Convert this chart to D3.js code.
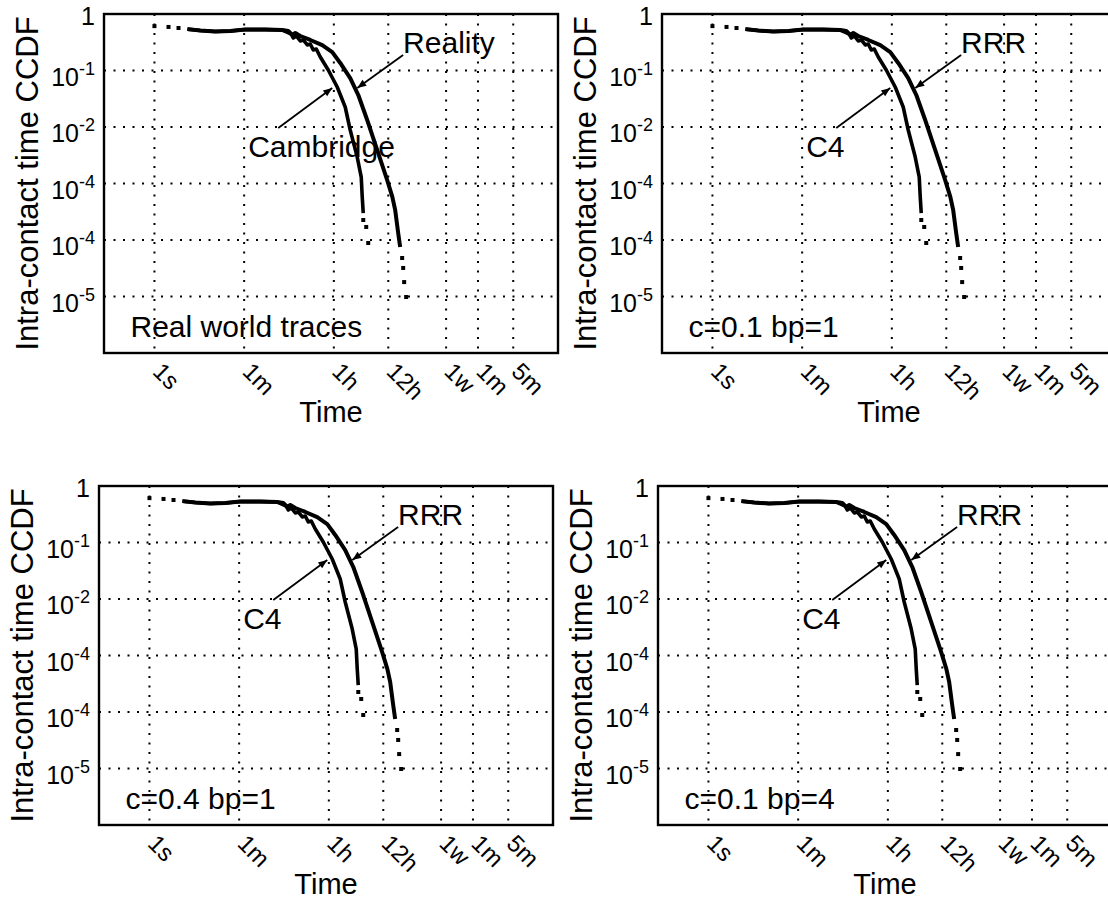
<!DOCTYPE html>
<html>
<head>
<meta charset="utf-8">
<script src="https://cdn.jsdelivr.net/npm/d3@7"></script>
<style>
  html, body { margin: 0; background: #fff; overflow: hidden; }
  svg { display: block; font-family: "Liberation Sans", Arial, sans-serif; }
</style>
</head>
<body>
<svg id="drawing_region"></svg>
<script>
// axis ticks
const timeTicks = [1, 60, 3600, 43200, 604800, 2592000, 12960000];
const timeTickLabels = ['1s', '1m', '1h', '12h', '1w', '1m', '5m'];
const ccdfTicks = [1, 1e-1, 1e-2, 1e-3, 1e-4, 1e-5];
const ccdfTickBase = ['1', '10', '10', '10', '10', '10'];
const ccdfTickExp = ['', '-1', '-2', '-4', '-4', '-5'];

// panel texts
const panelCaptions = ['Real world traces', 'c=0.1 bp=1', 'c=0.4 bp=1', 'c=0.1 bp=4'];
const upperNames = ['Reality', 'RRR', 'RRR', 'RRR'];
const lowerNames = ['Cambridge', 'C4', 'C4', 'C4'];

// sparse markers at the start (seconds, ccdf)
const headT = [1, 1.9, 3.0];
const headP = [0.61, 0.59, 0.565];

// upper curve (Reality / RRR)
const upperT = [4.5, 8.1, 16, 32, 63, 157, 343, 450, 540, 620, 778, 1230, 2120, 3350, 4820, 7600, 11000, 16500, 26000, 41100, 52000, 59200, 67900, 74300];
const upperP = [0.54, 0.51, 0.49, 0.50, 0.53, 0.53, 0.52, 0.50, 0.425, 0.461, 0.408, 0.347, 0.282, 0.212, 0.136, 0.0736, 0.0368, 0.0133, 0.00392, 0.00115, 0.00058, 0.00034, 0.000133, 0.0000752];
const upperTailT = [81400, 85300, 89200, 97700];
const upperTailP = [4.8e-5, 3.2e-5, 1.8e-5, 9.8e-6];

// lower curve (Cambridge / C4)
const lowerT = [4.5, 8.1, 16, 32, 63, 157, 343, 516, 565, 649, 778, 892, 1072, 1228, 1408, 1615, 1940, 2790, 4200, 6050, 7600, 10470, 12570, 13160, 13780];
const lowerP = [0.54, 0.51, 0.49, 0.50, 0.53, 0.53, 0.52, 0.443, 0.376, 0.408, 0.333, 0.347, 0.283, 0.294, 0.231, 0.24, 0.173, 0.102, 0.051, 0.0226, 0.00885, 0.00294, 0.0013, 0.000577, 0.0003];
const lowerTailT = [13800, 15780, 17300];
const lowerTailP = [0.000226, 0.00017, 0.0000885];

// annotation anchors in data units
const upperArrow = { from: [85000, 0.188], to: [10500, 0.049] };
const lowerArrow = { from: [285, 0.0096], to: [3350, 0.049] };
const upperLabelAt = [85000, 0.204];
const lowerLabelAt = [72, 0.0029];
const captionAt = [0.335, 1.9e-6];

const W = 1108, H = 899;
const svg = d3.select('#drawing_region').attr('width', W).attr('height', H);

svg.append('defs').append('marker')
    .attr('id', 'arrowhead')
    .attr('viewBox', '0 0 10 10')
    .attr('refX', 10).attr('refY', 5)
    .attr('markerWidth', 11).attr('markerHeight', 9)
    .attr('markerUnits', 'userSpaceOnUse')
    .attr('orient', 'auto')
    .append('path')
    .attr('d', 'M0,1 L10,5 L0,9 Z')
    .attr('fill', '#000');

const panels = [
    { left: 104, top: 14 },
    { left: 662, top: 14 },
    { left: 99, top: 486 },
    { left: 658, top: 486 }
];

const pw = 454, ph = 339;

panels.forEach((p, i) => drawPanel(p, i));

function drawPanel(pos, i) {
    const g = svg.append('g').attr('transform', `translate(${pos.left},${pos.top})`);

    const x = d3.scaleLog().domain([0.1, 1e8]).range([0, pw]);
    const y = d3.scaleLog().domain([1e-6, 1]).range([ph, 0]);

    // dotted grid
    g.selectAll('.vgrid').data(timeTicks).enter().append('line')
        .attr('x1', d => x(d)).attr('x2', d => x(d))
        .attr('y1', 0).attr('y2', ph)
        .attr('stroke', '#000').attr('stroke-width', 2)
        .attr('stroke-dasharray', '2,7.5');
    g.selectAll('.hgrid').data(ccdfTicks).enter().append('line')
        .attr('x1', 0).attr('x2', pw)
        .attr('y1', d => y(d)).attr('y2', d => y(d))
        .attr('stroke', '#000').attr('stroke-width', 2)
        .attr('stroke-dasharray', '2,7.5');

    // frame
    g.append('rect')
        .attr('width', pw).attr('height', ph)
        .attr('fill', 'none').attr('stroke', '#000').attr('stroke-width', 2.4);

    // y tick labels
    const yl = g.selectAll('.ylab').data(ccdfTicks).enter().append('text')
        .attr('x', -9)
        .attr('y', (d, k) => y(d) + (k === 0 ? 11 : 15))
        .attr('text-anchor', 'end')
        .attr('font-size', 25);
    yl.append('tspan').text((d, k) => ccdfTickBase[k]);
    yl.append('tspan')
        .attr('font-size', 18)
        .attr('dy', -11)
        .text((d, k) => ccdfTickExp[k]);

    // x tick labels (rotated)
    g.selectAll('.xlab').data(timeTicks).enter().append('text')
        .attr('transform', d => `translate(${x(d) - 3},${ph + 20}) rotate(45)`)
        .attr('font-size', 24)
        .text((d, k) => timeTickLabels[k]);

    // axis titles
    g.append('text')
        .attr('x', pw / 2).attr('y', ph + 69)
        .attr('text-anchor', 'middle')
        .attr('font-size', 29)
        .text('Time');
    g.append('text')
        .attr('transform', `translate(-66,${ph / 2}) rotate(-90)`)
        .attr('text-anchor', 'middle')
        .attr('font-size', 31)
        .text('Intra-contact time CCDF');

    // curves
    const line = d3.line().x(d => x(d[0])).y(d => y(d[1]));
    const upper = d3.zip(upperT, upperP);
    const lower = d3.zip(lowerT, lowerP);

    g.append('path').datum(lower)
        .attr('d', line).attr('fill', 'none')
        .attr('stroke', '#000').attr('stroke-width', 3.6)
        .attr('stroke-linejoin', 'round');
    g.append('path').datum(upper)
        .attr('d', line).attr('fill', 'none')
        .attr('stroke', '#000').attr('stroke-width', 4)
        .attr('stroke-linejoin', 'round');

    const dots = d3.zip(headT, headP)
        .concat(d3.zip(upperTailT, upperTailP))
        .concat(d3.zip(lowerTailT, lowerTailP));
    g.selectAll('.dot').data(dots).enter().append('rect')
        .attr('x', d => x(d[0]) - 2).attr('y', d => y(d[1]) - 2)
        .attr('width', 4).attr('height', 4)
        .attr('fill', '#000');

    // annotations
    [upperArrow, lowerArrow].forEach(a => {
        g.append('line')
            .attr('x1', x(a.from[0])).attr('y1', y(a.from[1]))
            .attr('x2', x(a.to[0])).attr('y2', y(a.to[1]))
            .attr('stroke', '#000').attr('stroke-width', 1.8)
            .attr('marker-end', 'url(#arrowhead)');
    });
    g.append('text')
        .attr('x', x(upperLabelAt[0])).attr('y', y(upperLabelAt[1]))
        .attr('font-size', 30)
        .text(upperNames[i]);
    g.append('text')
        .attr('x', x(lowerLabelAt[0])).attr('y', y(lowerLabelAt[1]))
        .attr('font-size', 30)
        .text(lowerNames[i]);
    g.append('text')
        .attr('x', x(captionAt[0])).attr('y', y(captionAt[1]))
        .attr('font-size', 30)
        .text(panelCaptions[i]);
}
</script>
</body>
</html>
